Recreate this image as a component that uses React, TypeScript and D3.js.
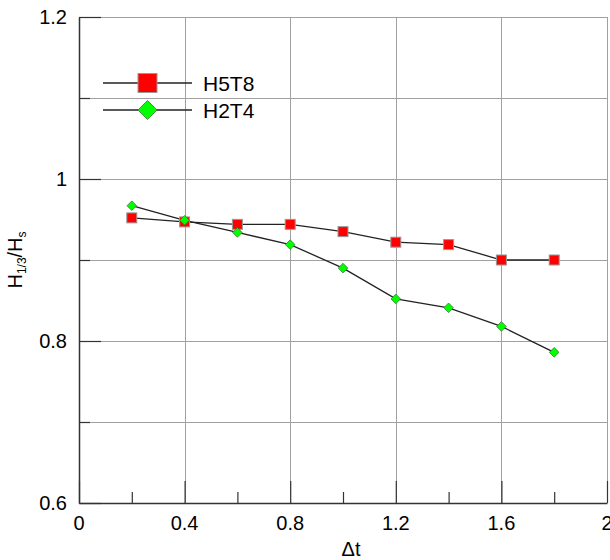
import * as React from "react";
import * as d3 from "d3";
import { useEffect, useRef } from "react";

const dtValues = [0.2, 0.4, 0.6, 0.8, 1.0, 1.2, 1.4, 1.6, 1.8];
const h5t8Values = [0.952, 0.947, 0.944, 0.944, 0.935, 0.922, 0.919, 0.9, 0.9];
const h2t4Values = [0.967, 0.949, 0.934, 0.919, 0.89, 0.852, 0.841, 0.818, 0.786];
const xTickLabels = [0, 0.4, 0.8, 1.2, 1.6, 2];
const yTickLabels = [0.6, 0.8, 1, 1.2];
const seriesNames = ["H5T8", "H2T4"];

function drawChart(svgRef: React.RefObject<SVGSVGElement>) {
  const svg = d3.select(svgRef.current);
  svg.selectAll("*").remove();

  const width = 610;
  const height = 560;
  const left = 79;
  const right = 607;
  const top = 17;
  const bottom = 503;
  const font = "Arial, 'Liberation Sans', sans-serif";

  const x = d3.scaleLinear().domain([0, 2]).range([left, right]);
  const y = d3.scaleLinear().domain([0.6, 1.2]).range([bottom, top]);

  svg.attr("width", width).attr("height", height);
  svg.append("rect").attr("width", width).attr("height", height).attr("fill", "white");

  // grid
  const grid = svg.append("g").attr("stroke", "#a0a0a0").attr("stroke-width", 1);
  d3.range(0.4, 2.01, 0.4).forEach((v) => {
    grid
      .append("line")
      .attr("x1", Math.round(x(v)) + 0.5)
      .attr("x2", Math.round(x(v)) + 0.5)
      .attr("y1", top)
      .attr("y2", bottom);
  });
  d3.range(0.7, 1.21, 0.1).forEach((v) => {
    grid
      .append("line")
      .attr("x1", left)
      .attr("x2", right)
      .attr("y1", Math.round(y(v)) + 0.5)
      .attr("y2", Math.round(y(v)) + 0.5);
  });

  // axes (ticks pointing inward)
  const xAxis = d3
    .axisBottom(x)
    .tickValues(d3.range(0, 2.01, 0.2))
    .tickSize(0)
    .tickFormat(() => "");
  const gx = svg.append("g").attr("transform", `translate(0, ${bottom})`).call(xAxis);
  gx.select(".domain").attr("stroke", "#333").attr("stroke-width", 1.5);
  gx.selectAll(".tick line")
    .attr("y2", (d: any, i) => (i % 2 === 0 ? -22 : -11))
    .attr("stroke", "#333")
    .attr("stroke-width", 1.2);

  const yAxis = d3
    .axisLeft(y)
    .tickValues(d3.range(0.6, 1.21, 0.1))
    .tickSize(0)
    .tickFormat(() => "");
  const gy = svg.append("g").attr("transform", `translate(${left}, 0)`).call(yAxis);
  gy.select(".domain").attr("stroke", "#333").attr("stroke-width", 1.5);
  gy.selectAll(".tick line")
    .attr("x2", (d: any, i) => (i % 2 === 0 ? 22 : 11))
    .attr("stroke", "#333")
    .attr("stroke-width", 1.2);

  // tick labels
  svg
    .append("g")
    .selectAll("text")
    .data(xTickLabels)
    .enter()
    .append("text")
    .attr("x", (d) => x(d))
    .attr("y", bottom + 27)
    .attr("text-anchor", "middle")
    .attr("font-family", font)
    .attr("font-size", 20)
    .text((d) => String(d));

  svg
    .append("g")
    .selectAll("text")
    .data(yTickLabels)
    .enter()
    .append("text")
    .attr("x", left - 12)
    .attr("y", (d) => y(d) + 7)
    .attr("text-anchor", "end")
    .attr("font-family", font)
    .attr("font-size", 20)
    .text((d) => String(d));

  // axis titles
  svg
    .append("text")
    .attr("x", (left + right) / 2 + 8)
    .attr("y", 556)
    .attr("text-anchor", "middle")
    .attr("font-family", font)
    .attr("font-size", 20)
    .text("Δt");

  const yTitle = svg
    .append("text")
    .attr("transform", `translate(22, 260) rotate(-90)`)
    .attr("text-anchor", "middle")
    .attr("font-family", font)
    .attr("font-size", 20);
  yTitle.append("tspan").text("H");
  yTitle.append("tspan").attr("font-size", 12).attr("dy", 4).text("1/3");
  yTitle.append("tspan").attr("dy", -4).text("/H");
  yTitle.append("tspan").attr("font-size", 12).attr("dy", 4).text("s");

  // series
  const line = d3
    .line<number>()
    .x((d, i) => x(dtValues[i]))
    .y((d) => y(d));

  [h5t8Values, h2t4Values].forEach((vals) => {
    svg
      .append("path")
      .attr("d", line(vals)!)
      .attr("fill", "none")
      .attr("stroke", "#222")
      .attr("stroke-width", 1.3);
  });

  const sq = 10;
  svg
    .append("g")
    .selectAll("rect")
    .data(h5t8Values)
    .enter()
    .append("rect")
    .attr("x", (d, i) => x(dtValues[i]) - sq / 2)
    .attr("y", (d) => y(d) - sq / 2)
    .attr("width", sq)
    .attr("height", sq)
    .attr("fill", "#ff0000")
    .attr("stroke", "#999")
    .attr("stroke-width", 1);

  const diamond = (cx: number, cy: number, r: number) =>
    `M${cx},${cy - r}L${cx + r},${cy}L${cx},${cy + r}L${cx - r},${cy}Z`;

  svg
    .append("g")
    .selectAll("path")
    .data(h2t4Values)
    .enter()
    .append("path")
    .attr("d", (d, i) => diamond(x(dtValues[i]), y(d), 4.8))
    .attr("fill", "#00ff00")
    .attr("stroke", "#3a7a3a")
    .attr("stroke-width", 0.8);

  // legend
  const legendRows = [83, 110];
  seriesNames.forEach((name, i) => {
    const ly = legendRows[i];
    svg
      .append("line")
      .attr("x1", 103)
      .attr("x2", 192)
      .attr("y1", ly)
      .attr("y2", ly)
      .attr("stroke", "#222")
      .attr("stroke-width", 1.3);
    if (i === 0) {
      svg
        .append("rect")
        .attr("x", 138)
        .attr("y", ly - 9.5)
        .attr("width", 19)
        .attr("height", 19)
        .attr("fill", "#ff0000")
        .attr("stroke", "#999");
    } else {
      svg
        .append("path")
        .attr("d", diamond(147.5, ly, 9.5))
        .attr("fill", "#00ff00")
        .attr("stroke", "#3a7a3a")
        .attr("stroke-width", 0.8);
    }
    svg
      .append("text")
      .attr("x", 203)
      .attr("y", ly + 8)
      .attr("font-family", font)
      .attr("font-size", 21)
      .text(name);
  });
}

export default function App() {
  const svg = useRef<SVGSVGElement>(null);
  useEffect(() => {
    drawChart(svg);
  }, []);
  return (
    <div style={{ position: "absolute", left: 0, top: 0 }}>
      <svg ref={svg} style={{ display: "block" }} />
    </div>
  );
}
